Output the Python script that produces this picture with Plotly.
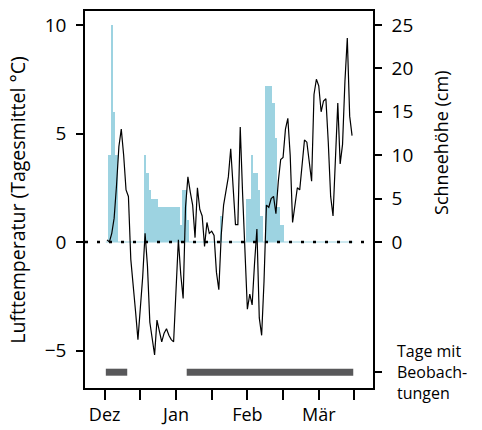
import plotly.graph_objects as go

# Day index (1 = first observation day), daily values
days = list(range(1, 105))

temperature = [
    0.1, 0.0, 0.4, 1.1, 2.6, 4.4, 5.2, 4.0, 2.4, 2.1,
    -0.8, -1.9, -3.2, -4.5, -3.1, -1.6, 0.4, -1.1, -3.7, -4.4,
    -5.2, -3.6, -4.1, -4.6, -4.2, -4.0, -4.3, -4.5, -4.6, -2.0,
    0.1, -1.5, -2.6, 1.6, 3.0, 2.3, 1.7, 0.2, 2.5, 1.5,
    1.2, -0.2, 0.9, 0.4, 0.5, 0.3, -1.4, -2.2, 0.3, 1.7,
    2.3, 3.0, 4.3, 2.7, 0.8, 0.8, 5.3, 2.2, -0.6, -3.1,
    -2.4, -2.9, -1.0, 0.6, -3.5, -4.3, -1.8, 1.7, 1.6, 2.0,
    2.1, 1.3, 2.8, 3.8, 3.9, 5.2, 5.7, 4.0, 0.9, 1.8,
    2.5, 2.4, 3.7, 4.7, 4.6, 3.7, 2.8, 6.8, 7.5, 7.2,
    6.0, 6.5, 6.6, 4.6, 2.1, 1.2, 3.5, 6.4, 3.6, 4.5,
    7.4, 9.4, 5.8, 4.9,
]

snow = [
    0, 10, 25, 15, 10, 0, 0, 0, 0, 0,
    0, 0, 0, 0, 0, 0, 10, 8, 6, 5,
    5, 5, 4, 4, 4, 4, 4, 4, 4, 4,
    4, 2, 6, 6, 2.5, 0, 0, 0, 0, 0,
    0, 0, 0, 0, 0, 0, 0, 0, 3, 0,
    0, 0, 0, 0, 0, 0, 0, 0, 0, 5,
    5, 10, 8, 8, 6, 3, 0, 18, 18, 18,
    16, 12, 4, 2, 2, 0, 0, 0, 0, 0,
    0, 0, 0, 0, 0, 0, 0, 0, 0, 0,
    0, 0, 0, 0, 0, 0, 0, 0, 0, 0,
    0, 0, 0, 0,
]

# Observation periods (start day, end day) at level -6 °C
obs_start = [1, 35]
obs_end = [9, 104]
obs_level = -6

x_tickvals = [0, 15, 30, 45, 60, 75, 90, 105]
x_ticktext = ["Dez", "", "Jan", "", "Feb", "", "Mär", ""]

temp_ticks = [-5, 0, 5, 10]
temp_ticktext = ["\u22125", "0", "5", "10"]
snow_ticks = [-15, 0, 5, 10, 15, 20, 25]
snow_ticktext = ["", "0", "5", "10", "15", "20", "25"]

temp_range = [-6.728, 10.645]
snow_range = [temp_range[0] * 2.5, temp_range[1] * 2.5]

FONT = "Open Sans"
BLUE = "#9dd3e1"

fig = go.Figure()

fig.add_trace(go.Bar(
    x=days, y=snow, width=1, marker=dict(color=BLUE, line=dict(width=0)),
    yaxis="y", showlegend=False,
))
fig.add_trace(go.Scatter(
    x=[days[0] - 0.5, days[-1] + 0.5], y=[0, 0], mode="lines",
    line=dict(color=BLUE, width=1.2), yaxis="y", showlegend=False,
))
fig.add_trace(go.Scatter(
    x=days, y=temperature, mode="lines",
    line=dict(color="black", width=1.2), yaxis="y2", showlegend=False,
))
for s, e in zip(obs_start, obs_end):
    fig.add_trace(go.Scatter(
        x=[s - 0.5, e + 0.5], y=[obs_level, obs_level], mode="lines",
        line=dict(color="#58585a", width=7), yaxis="y2", showlegend=False,
    ))

fig.add_shape(type="line", xref="paper", x0=0, x1=1, yref="y2", y0=0, y1=0,
              line=dict(color="black", width=2.5, dash="3px,9px"))

fig.update_layout(
    width=482, height=430,
    margin=dict(l=85, r=109, t=11, b=42, autoexpand=False),
    paper_bgcolor="white", plot_bgcolor="white",
    bargap=0,
    font=dict(family=FONT, size=19, color="black"),
    xaxis=dict(
        range=[-8.25, 112.8], tickmode="array", tickvals=x_tickvals, ticktext=x_ticktext,
        ticks="outside", ticklen=10, tickwidth=1.5, tickcolor="black",
        showline=True, linecolor="black", linewidth=1.5, mirror=True,
        showgrid=False, zeroline=False, tickfont=dict(size=18),
        ticklabelstandoff=0, automargin=False,
    ),
    yaxis=dict(
        side="right", range=snow_range, tickmode="array", tickvals=snow_ticks,
        ticktext=snow_ticktext, ticks="outside", ticklen=7, tickwidth=1.5,
        tickcolor="black", showline=True, linecolor="black", linewidth=1.5,
        showgrid=False, zeroline=False, tickfont=dict(size=19),
        ticklabelstandoff=6, automargin=False,
    ),
    yaxis2=dict(
        side="left", overlaying="y", range=temp_range, tickmode="array",
        tickvals=temp_ticks, ticktext=temp_ticktext, ticks="outside", ticklen=7,
        tickwidth=1.5, tickcolor="black", showline=True, linecolor="black",
        linewidth=1.5, showgrid=False, zeroline=False, tickfont=dict(size=19),
        ticklabelstandoff=6, automargin=False,
    ),
    annotations=[
        dict(text="Lufttemperatur (Tagesmittel °C)", textangle=-90, xref="paper",
             yref="paper", x=-0.233, y=0.499, xanchor="center", yanchor="middle",
             showarrow=False, font=dict(size=19.5)),
        dict(text="Schneehöhe (cm)", textangle=-90, xref="paper", yref="paper",
             x=1.236, y=0.650, xanchor="center", yanchor="middle",
             showarrow=False, font=dict(size=18)),
        dict(text="Tage mit<br>Beobach-<br>tungen", xref="paper", yref="y",
             x=1.078, y=-15, xanchor="left", yanchor="middle", align="left",
             showarrow=False, font=dict(size=16)),
    ],
)

fig.write_html("out.html", config={"displayModeBar": False},
               post_script="document.body.style.margin='0';")
